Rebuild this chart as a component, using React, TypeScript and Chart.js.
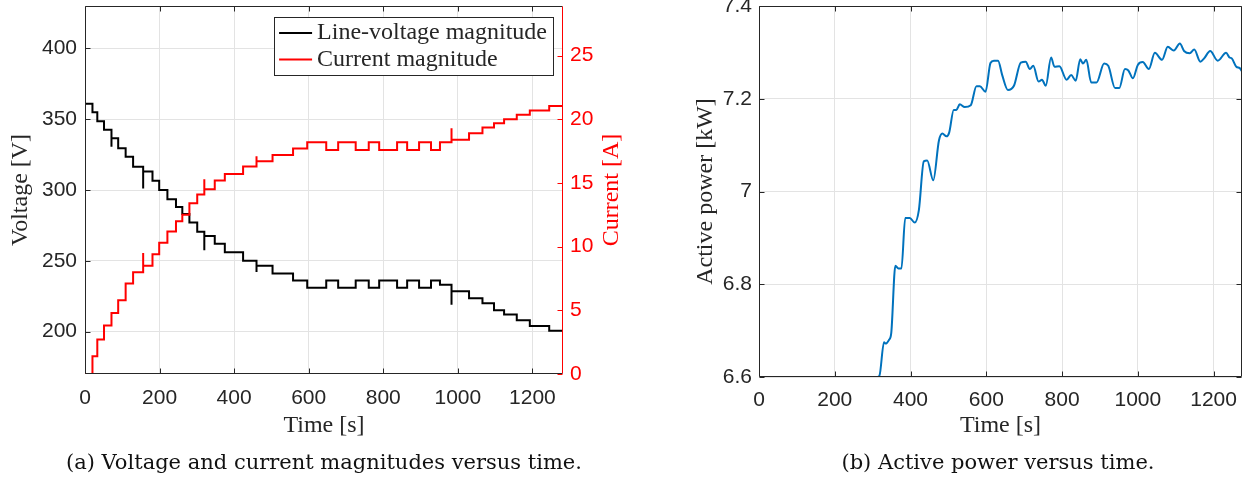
import React, { useEffect, useRef } from "react";
import { Chart, registerables } from "chart.js";

Chart.register(...registerables);

// ---------- data ----------
const voltageTimes = [0, 20, 33, 51, 71, 71, 89, 109, 129, 156, 156, 181, 199, 221, 244, 261, 280, 301, 320, 320, 348, 375, 424, 460, 460, 503, 558, 596, 647, 679, 726, 761, 789, 837, 864, 896, 928, 952, 983, 983, 1030, 1066, 1097, 1124, 1158, 1193, 1245, 1282];
const voltageValues = [361, 355, 348.5, 342.5, 330.5, 336.5, 329.5, 323.5, 316.5, 301, 313, 306.5, 300, 293.5, 288, 283, 277, 270.5, 257.5, 267.5, 262, 256, 250, 242, 246.5, 241, 236, 231, 236, 231, 236, 231, 236, 231, 236, 231, 236, 233, 219, 228.5, 223.5, 220, 215, 212, 208, 204, 200.5, 200.5];

const currentTimes = [0, 20, 33, 51, 71, 89, 109, 129, 156, 156, 181, 199, 221, 244, 261, 280, 301, 320, 320, 348, 375, 424, 460, 460, 503, 558, 596, 647, 679, 726, 761, 789, 837, 864, 896, 928, 952, 983, 983, 1030, 1066, 1097, 1124, 1158, 1193, 1245, 1282];
const currentValues = [0, 1.4, 2.7, 3.8, 4.8, 5.8, 7.1, 8.0, 9.5, 8.5, 9.4, 10.3, 11.2, 12.0, 12.5, 13.4, 14.1, 15.3, 14.5, 15.2, 15.7, 16.3, 17.1, 16.7, 17.2, 17.7, 18.2, 17.6, 18.2, 17.6, 18.2, 17.6, 18.2, 17.6, 18.2, 17.6, 18.2, 19.3, 18.4, 18.9, 19.35, 19.7, 20.0, 20.35, 20.7, 21.05, 21.05];

const powerTimes = [312, 318, 330, 334, 343, 349, 360, 368, 376, 386, 398, 411, 422, 435, 444, 460, 475, 484, 495, 502, 514, 521, 530, 543, 559, 574, 583, 598, 611, 620, 631, 642, 657, 673, 691, 704, 715, 724, 738, 747, 757, 771, 780, 793, 812, 824, 836, 848, 855, 864, 877, 891, 911, 922, 940, 951, 966, 975, 987, 1000, 1013, 1029, 1045, 1064, 1079, 1095, 1111, 1122, 1137, 1149, 1165, 1175, 1191, 1211, 1233, 1242, 1248, 1260, 1269, 1275];
const powerValues = [6.6, 6.603, 6.675, 6.672, 6.68, 6.694, 6.84, 6.834, 6.834, 6.943, 6.943, 6.933, 6.96, 7.065, 7.067, 7.024, 7.11, 7.125, 7.119, 7.127, 7.176, 7.176, 7.188, 7.182, 7.186, 7.227, 7.227, 7.215, 7.277, 7.282, 7.282, 7.251, 7.219, 7.228, 7.278, 7.28, 7.264, 7.271, 7.237, 7.241, 7.228, 7.289, 7.269, 7.27, 7.241, 7.251, 7.239, 7.285, 7.276, 7.284, 7.235, 7.235, 7.276, 7.271, 7.223, 7.223, 7.264, 7.261, 7.244, 7.273, 7.279, 7.264, 7.299, 7.284, 7.312, 7.304, 7.319, 7.303, 7.298, 7.306, 7.28, 7.287, 7.303, 7.282, 7.299, 7.289, 7.287, 7.269, 7.266, 7.259];

const timeTicks = [0, 200, 400, 600, 800, 1000, 1200];
const voltageTicks = [200, 250, 300, 350, 400];
const currentTicks = [0, 5, 10, 15, 20, 25];
const powerTicks = [6.6, 6.8, 7, 7.2, 7.4];

const legendLabels = ["Line-voltage magnitude", "Current magnitude"];
const timeTitle = "Time [s]";
const voltageTitle = "Voltage [V]";
const currentTitle = "Current [A]";
const powerTitle = "Active power [kW]";
const captionA = "(a) Voltage and current magnitudes versus time.";
const captionB = "(b) Active power versus time.";

// ---------- styles ----------
const AXIS = "#262626";
const GRID = "#e3e3e3";
const RED = "#ff0000";
const BLUE = "#0072bd";
const SANS = "'Liberation Sans', Arial, sans-serif";
const SERIF = "'Liberation Serif', 'Times New Roman', serif";
const TICK_FONT = { family: SANS, size: 21 };
const TITLE_FONT = { family: SERIF, size: 24, lineHeight: 1.2 };

const setTicks = (vals: number[]) => (scale: any) => {
  scale.ticks = vals.map((v) => ({ value: v }));
};
const fitTo = (size: number) => (scale: any) => {
  if (scale.isHorizontal()) scale.height = size;
  else scale.width = size;
  scale.paddingTop = 0;
  scale.paddingBottom = 0;
  scale.paddingLeft = 0;
  scale.paddingRight = 0;
};
const pts = (xs: number[], ys: number[]) => xs.map((x, i) => ({ x, y: ys[i] }));

function framePlugin(yLeft: string, yRight: string | null, rightColor: string, rightTitle?: string, rightTitleX?: number) {
  return {
    id: "frame_" + yLeft,
    afterDraw(chart: any) {
      const { ctx, chartArea: a, scales } = chart;
      const L = 5;
      const seg = (x1: number, y1: number, x2: number, y2: number) => {
        ctx.beginPath();
        ctx.moveTo(x1, y1);
        ctx.lineTo(x2, y2);
        ctx.stroke();
      };
      const l = Math.round(a.left) + 0.5;
      const r = Math.round(a.right) - 0.5;
      const t = Math.round(a.top) + 0.5;
      const b = Math.round(a.bottom) - 0.5;
      ctx.save();
      ctx.lineWidth = 1;
      ctx.strokeStyle = AXIS;
      scales.x.ticks.forEach((tk: any) => {
        const px = Math.round(scales.x.getPixelForValue(tk.value)) + 0.5;
        seg(px, b, px, b - L);
        seg(px, t, px, t + L);
      });
      scales[yLeft].ticks.forEach((tk: any) => {
        const py = Math.round(scales[yLeft].getPixelForValue(tk.value)) + 0.5;
        seg(l, py, l + L, py);
        if (!yRight) seg(r, py, r - L, py);
      });
      seg(l, t, l, b);
      seg(l, b, r, b);
      seg(l, t, r, t);
      ctx.strokeStyle = rightColor;
      if (yRight) {
        scales[yRight].ticks.forEach((tk: any) => {
          const py = Math.round(scales[yRight].getPixelForValue(tk.value)) + 0.5;
          seg(r, py, r - L, py);
        });
      }
      seg(r, t, r, b);
      if (rightTitle) {
        ctx.fillStyle = rightColor;
        ctx.font = `24px ${SERIF}`;
        ctx.textAlign = "center";
        ctx.textBaseline = "middle";
        ctx.translate(rightTitleX, (a.top + a.bottom) / 2);
        ctx.rotate(-Math.PI / 2);
        ctx.fillText(rightTitle, 0, 0);
      }
      ctx.restore();
    },
  };
}

const legendPlugin = {
  id: "boxLegend",
  afterDraw(chart: any) {
    const { ctx, chartArea: a } = chart;
    const ds = chart.data.datasets;
    ctx.save();
    ctx.font = `24px ${SERIF}`;
    const tw = Math.max(...ds.map((d: any) => ctx.measureText(d.label).width));
    const w = 43 + tw + 6;
    const h = 58;
    const right = a.right - 10;
    const left = right - w;
    const top = a.top + 11;
    ctx.fillStyle = "#ffffff";
    ctx.fillRect(left, top, w, h);
    ctx.strokeStyle = AXIS;
    ctx.lineWidth = 1;
    ctx.strokeRect(Math.round(left) + 0.5, Math.round(top) + 0.5, Math.round(w), h);
    ds.forEach((d: any, i: number) => {
      const cy = top + 16 + i * 26.5;
      ctx.strokeStyle = d.borderColor;
      ctx.lineWidth = 2;
      ctx.beginPath();
      ctx.moveTo(left + 5, cy);
      ctx.lineTo(left + 38, cy);
      ctx.stroke();
      ctx.fillStyle = AXIS;
      ctx.textAlign = "left";
      ctx.textBaseline = "middle";
      ctx.fillText(d.label, left + 43, cy);
    });
    ctx.restore();
  },
};

function LeftChart() {
  const ref = useRef<HTMLCanvasElement>(null);
  useEffect(() => {
    const chart = new Chart(ref.current as HTMLCanvasElement, {
      type: "line",
      data: {
        datasets: [
          {
            label: legendLabels[0],
            data: pts(voltageTimes, voltageValues),
            borderColor: "#000000",
            backgroundColor: "#000000",
            borderWidth: 2,
            pointRadius: 0,
            stepped: true,
            yAxisID: "y",
            order: 1,
          },
          {
            label: legendLabels[1],
            data: pts(currentTimes, currentValues),
            borderColor: RED,
            backgroundColor: RED,
            borderWidth: 2,
            pointRadius: 0,
            stepped: true,
            yAxisID: "y1",
            order: 0,
          },
        ],
      } as any,
      options: {
        animation: false,
        responsive: false,
        events: [],
        layout: { padding: { top: 6, left: 0, right: 0, bottom: 0 } },
        plugins: { legend: { display: false }, tooltip: { enabled: false } },
        scales: {
          x: {
            type: "linear",
            min: 0,
            max: 1282,
            afterBuildTicks: setTicks(timeTicks),
            afterFit: fitTo(76),
            grid: { color: GRID, drawTicks: false },
            border: { display: false },
            ticks: { padding: 12, font: TICK_FONT, color: AXIS, autoSkip: false, maxRotation: 0, callback: (v: any) => String(v) },
            title: { display: true, text: timeTitle, font: TITLE_FONT, color: AXIS, padding: { top: 0, bottom: 10 } },
          },
          y: {
            type: "linear",
            position: "left",
            min: 170,
            max: 430,
            afterBuildTicks: setTicks(voltageTicks),
            afterFit: fitTo(85),
            grid: { color: GRID, drawTicks: false },
            border: { display: false },
            ticks: { padding: 8, font: TICK_FONT, color: AXIS, callback: (v: any) => String(v) },
            title: { display: true, text: voltageTitle, font: TITLE_FONT, color: AXIS, padding: { top: 6, bottom: 0 } },
          },
          y1: {
            type: "linear",
            position: "right",
            min: 0,
            max: 28.9,
            afterBuildTicks: setTicks(currentTicks),
            afterFit: fitTo(77),
            grid: { display: false, drawTicks: false },
            border: { display: false },
            ticks: { padding: 7, font: TICK_FONT, color: RED, callback: (v: any) => String(v) },
          },
        },
      } as any,
      plugins: [framePlugin("y", "y1", RED, currentTitle, 612), legendPlugin],
    });
    return () => chart.destroy();
  }, []);
  return <canvas ref={ref} width={640} height={450} style={{ width: 640, height: 450, display: "block" }} />;
}

function RightChart() {
  const ref = useRef<HTMLCanvasElement>(null);
  useEffect(() => {
    const chart = new Chart(ref.current as HTMLCanvasElement, {
      type: "line",
      data: {
        datasets: [
          {
            label: powerTitle,
            data: pts(powerTimes, powerValues),
            borderColor: BLUE,
            backgroundColor: BLUE,
            borderWidth: 2,
            pointRadius: 0,
            cubicInterpolationMode: "monotone",
          },
        ],
      } as any,
      options: {
        animation: false,
        responsive: false,
        events: [],
        layout: { padding: { top: 6, left: 0, right: 2, bottom: 0 } },
        plugins: { legend: { display: false }, tooltip: { enabled: false } },
        scales: {
          x: {
            type: "linear",
            min: 0,
            max: 1275,
            afterBuildTicks: setTicks(timeTicks),
            afterFit: fitTo(73),
            grid: { color: GRID, drawTicks: false },
            border: { display: false },
            ticks: { padding: 11, font: TICK_FONT, color: AXIS, autoSkip: false, maxRotation: 0, callback: (v: any) => String(v) },
            title: { display: true, text: timeTitle, font: TITLE_FONT, color: AXIS, padding: { top: 0, bottom: 10 } },
          },
          y: {
            type: "linear",
            position: "left",
            min: 6.6,
            max: 7.4,
            afterBuildTicks: setTicks(powerTicks),
            afterFit: fitTo(119),
            grid: { color: GRID, drawTicks: false },
            border: { display: false },
            ticks: { padding: 7, font: TICK_FONT, color: AXIS, callback: (v: any) => String(v) },
            title: { display: true, text: powerTitle, font: TITLE_FONT, color: AXIS, padding: { top: 51, bottom: 0 } },
          },
        },
      } as any,
      plugins: [framePlugin("y", null, AXIS)],
    });
    return () => chart.destroy();
  }, []);
  return <canvas ref={ref} width={604} height={450} style={{ width: 604, height: 450, display: "block" }} />;
}

const captionStyle: React.CSSProperties = {
  position: "absolute",
  top: 449,
  height: 26,
  lineHeight: "26px",
  textAlign: "center",
  fontFamily: "'DejaVu Serif', serif",
  fontSize: 21,
  color: "#111",
  whiteSpace: "nowrap",
};

export default function App() {
  return (
    <div style={{ position: "absolute", left: 0, top: 0, width: 1244, height: 493, background: "#fff", overflow: "hidden" }}>
      <div style={{ position: "absolute", left: 0, top: 0 }}>
        <LeftChart />
      </div>
      <div style={{ position: "absolute", left: 640, top: 0 }}>
        <RightChart />
      </div>
      <div style={{ ...captionStyle, left: 24, width: 600 }}>{captionA}</div>
      <div style={{ ...captionStyle, left: 698, width: 600 }}>{captionB}</div>
    </div>
  );
}
